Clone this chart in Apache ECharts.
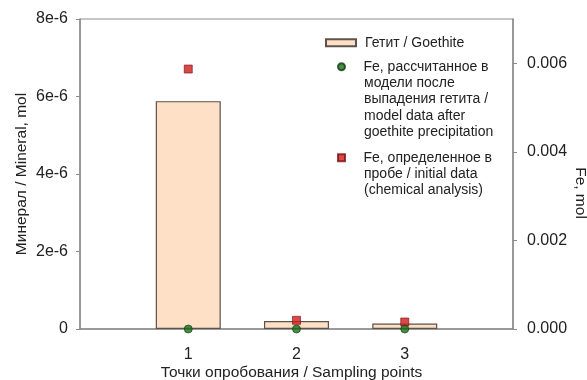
<!DOCTYPE html>
<html>
<head>
<meta charset="utf-8">
<script src="https://cdn.jsdelivr.net/npm/echarts@6/dist/echarts.min.js"></script>
<style>html,body{margin:0;padding:0;background:#fff}#c{width:587px;height:380px}</style>
</head>
<body>
<div id="c"></div>
<script>
var samplingPoints = [1, 2, 3];
var goethite = [5.88e-6, 0.206e-6, 0.14e-6];
var feModel = [0, 0, 0];
var feInitial = [0.00587, 0.000196, 0.000158];
var leftTicks = [0, 2e-6, 4e-6, 6e-6, 8e-6];
var rightTicks = [0, 0.002, 0.004, 0.006];

var nameBar = 'Гетит / Goethite';
var nameModel = 'Fe, рассчитанное в\nмодели после\nвыпадения гетита /\nmodel data after\ngoethite precipitation';
var nameInit = 'Fe, определенное в\nпробе / initial data\n(chemical analysis)';

var FONT = '"Liberation Sans", Arial, sans-serif';
var LH = 16.4;
var axisColor = '#8a8a8a';
var textColor = '#222';

function pairs(xs, ys) { return xs.map(function (x, i) { return [x, ys[i]]; }); }

var LEG_TEXT_X = 364;

function legendFor(name, icon, left, padLeft, centerY) {
  var item = { name: name };
  if (icon) item.icon = icon;
  return {
    data: [item],
    left: left,
    top: centerY - LH / 2,
    padding: 0,
    itemWidth: 30,
    itemHeight: 7,
    selectedMode: false,
    formatter: function (n) { return n.split('\n')[0]; },
    textStyle: { fontFamily: FONT, fontSize: 14, color: textColor, lineHeight: LH, padding: [0, 0, 0, padLeft] }
  };
}
function restLines(name, centerY) {
  var rest = name.split('\n').slice(1);
  return {
    type: 'text', left: LEG_TEXT_X, top: centerY + LH / 2, silent: true,
    style: { text: rest.join('\n'), font: '14px ' + FONT, fill: textColor, lineHeight: LH }
  };
}

var chart = echarts.init(document.getElementById('c'), null, { renderer: 'canvas' });
chart.setOption({
  animation: false,
  backgroundColor: '#fff',
  grid: { left: 80, right: 74, top: 19, bottom: 51, outerBoundsMode: 'none', containLabel: false,
          show: true, borderColor: axisColor, borderWidth: 1, backgroundColor: 'transparent' },
  legend: [
    legendFor(nameBar, 'rect', 325, 4, 42.7),
    legendFor(nameModel, 'circle', 337, 2, 66.7),
    legendFor(nameInit, 'path://M0,0L10,0L10,10L0,10Z', 337, 2, 157.7)
  ],
  graphic: [
    restLines(nameModel, 66.7),
    restLines(nameInit, 157.7)
  ],
  xAxis: {
    type: 'value', min: 0, max: 4, interval: 1,
    name: 'Точки опробования / Sampling points',
    nameLocation: 'middle', nameGap: 36, nameMoveOverlap: false,
    nameTextStyle: { fontFamily: FONT, fontSize: 15.5, color: textColor, padding: [0, 10, 0, 0] },
    axisLine: { show: true, lineStyle: { color: axisColor, width: 1.5 } },
    axisTick: { show: false },
    splitLine: { show: false },
    axisLabel: {
      customValues: samplingPoints,
      margin: 18, fontFamily: FONT, fontSize: 16, color: textColor,
      formatter: function (v) { return String(v); }
    }
  },
  yAxis: [{
    type: 'value', min: 0, max: 8e-6, interval: 2e-6,
    name: 'Минерал / Mineral, mol',
    nameLocation: 'middle', nameGap: 50, nameRotate: 90, nameMoveOverlap: false,
    nameTextStyle: { fontFamily: FONT, fontSize: 15.5, color: textColor },
    axisLine: { show: true, lineStyle: { color: axisColor, width: 1.5 } },
    axisTick: { show: true, inside: false, length: 4, lineStyle: { color: axisColor } },
    splitLine: { show: false },
    axisLabel: {
      customValues: leftTicks,
      margin: 12, fontFamily: FONT, fontSize: 16, color: textColor,
      formatter: function (v) { var n = Math.round(v * 1e6); return n === 0 ? '0' : n + 'e-6'; }
    }
  }, {
    type: 'value', min: 0, max: 0.007, interval: 0.002,
    name: 'Fe, mol',
    nameLocation: 'middle', nameGap: 59, nameRotate: -90, nameMoveOverlap: false,
    nameTextStyle: { fontFamily: FONT, fontSize: 15.5, color: textColor, padding: [0, 0, 0, 38] },
    axisLine: { show: true, lineStyle: { color: axisColor, width: 1.5 } },
    axisTick: { show: true, inside: false, length: 4, customValues: rightTicks, lineStyle: { color: axisColor } },
    splitLine: { show: false },
    axisLabel: {
      customValues: rightTicks,
      margin: 14, fontFamily: FONT, fontSize: 16, color: textColor,
      formatter: function (v) { return v.toFixed(3); }
    }
  }],
  series: [{
    name: nameBar, type: 'bar', xAxisIndex: 0, yAxisIndex: 0,
    barWidth: 65,
    data: pairs(samplingPoints, goethite),
    itemStyle: { color: '#fde0c6', borderColor: '#5e524c', borderWidth: 1.2 },
    z: 2
  }, {
    name: nameInit, type: 'scatter', xAxisIndex: 0, yAxisIndex: 1,
    symbol: 'rect', symbolSize: 8,
    data: pairs(samplingPoints, feInitial),
    itemStyle: { color: '#d11b1b', borderColor: '#7a1010', borderWidth: 0.8 },
    z: 3
  }, {
    name: nameModel, type: 'scatter', xAxisIndex: 0, yAxisIndex: 1,
    symbol: 'circle', symbolSize: 8,
    data: pairs(samplingPoints, feModel),
    itemStyle: { color: '#1c6e1c', borderColor: '#0d3d0d', borderWidth: 0.8 },
    z: 4
  }]
});
</script>
</body>
</html>
